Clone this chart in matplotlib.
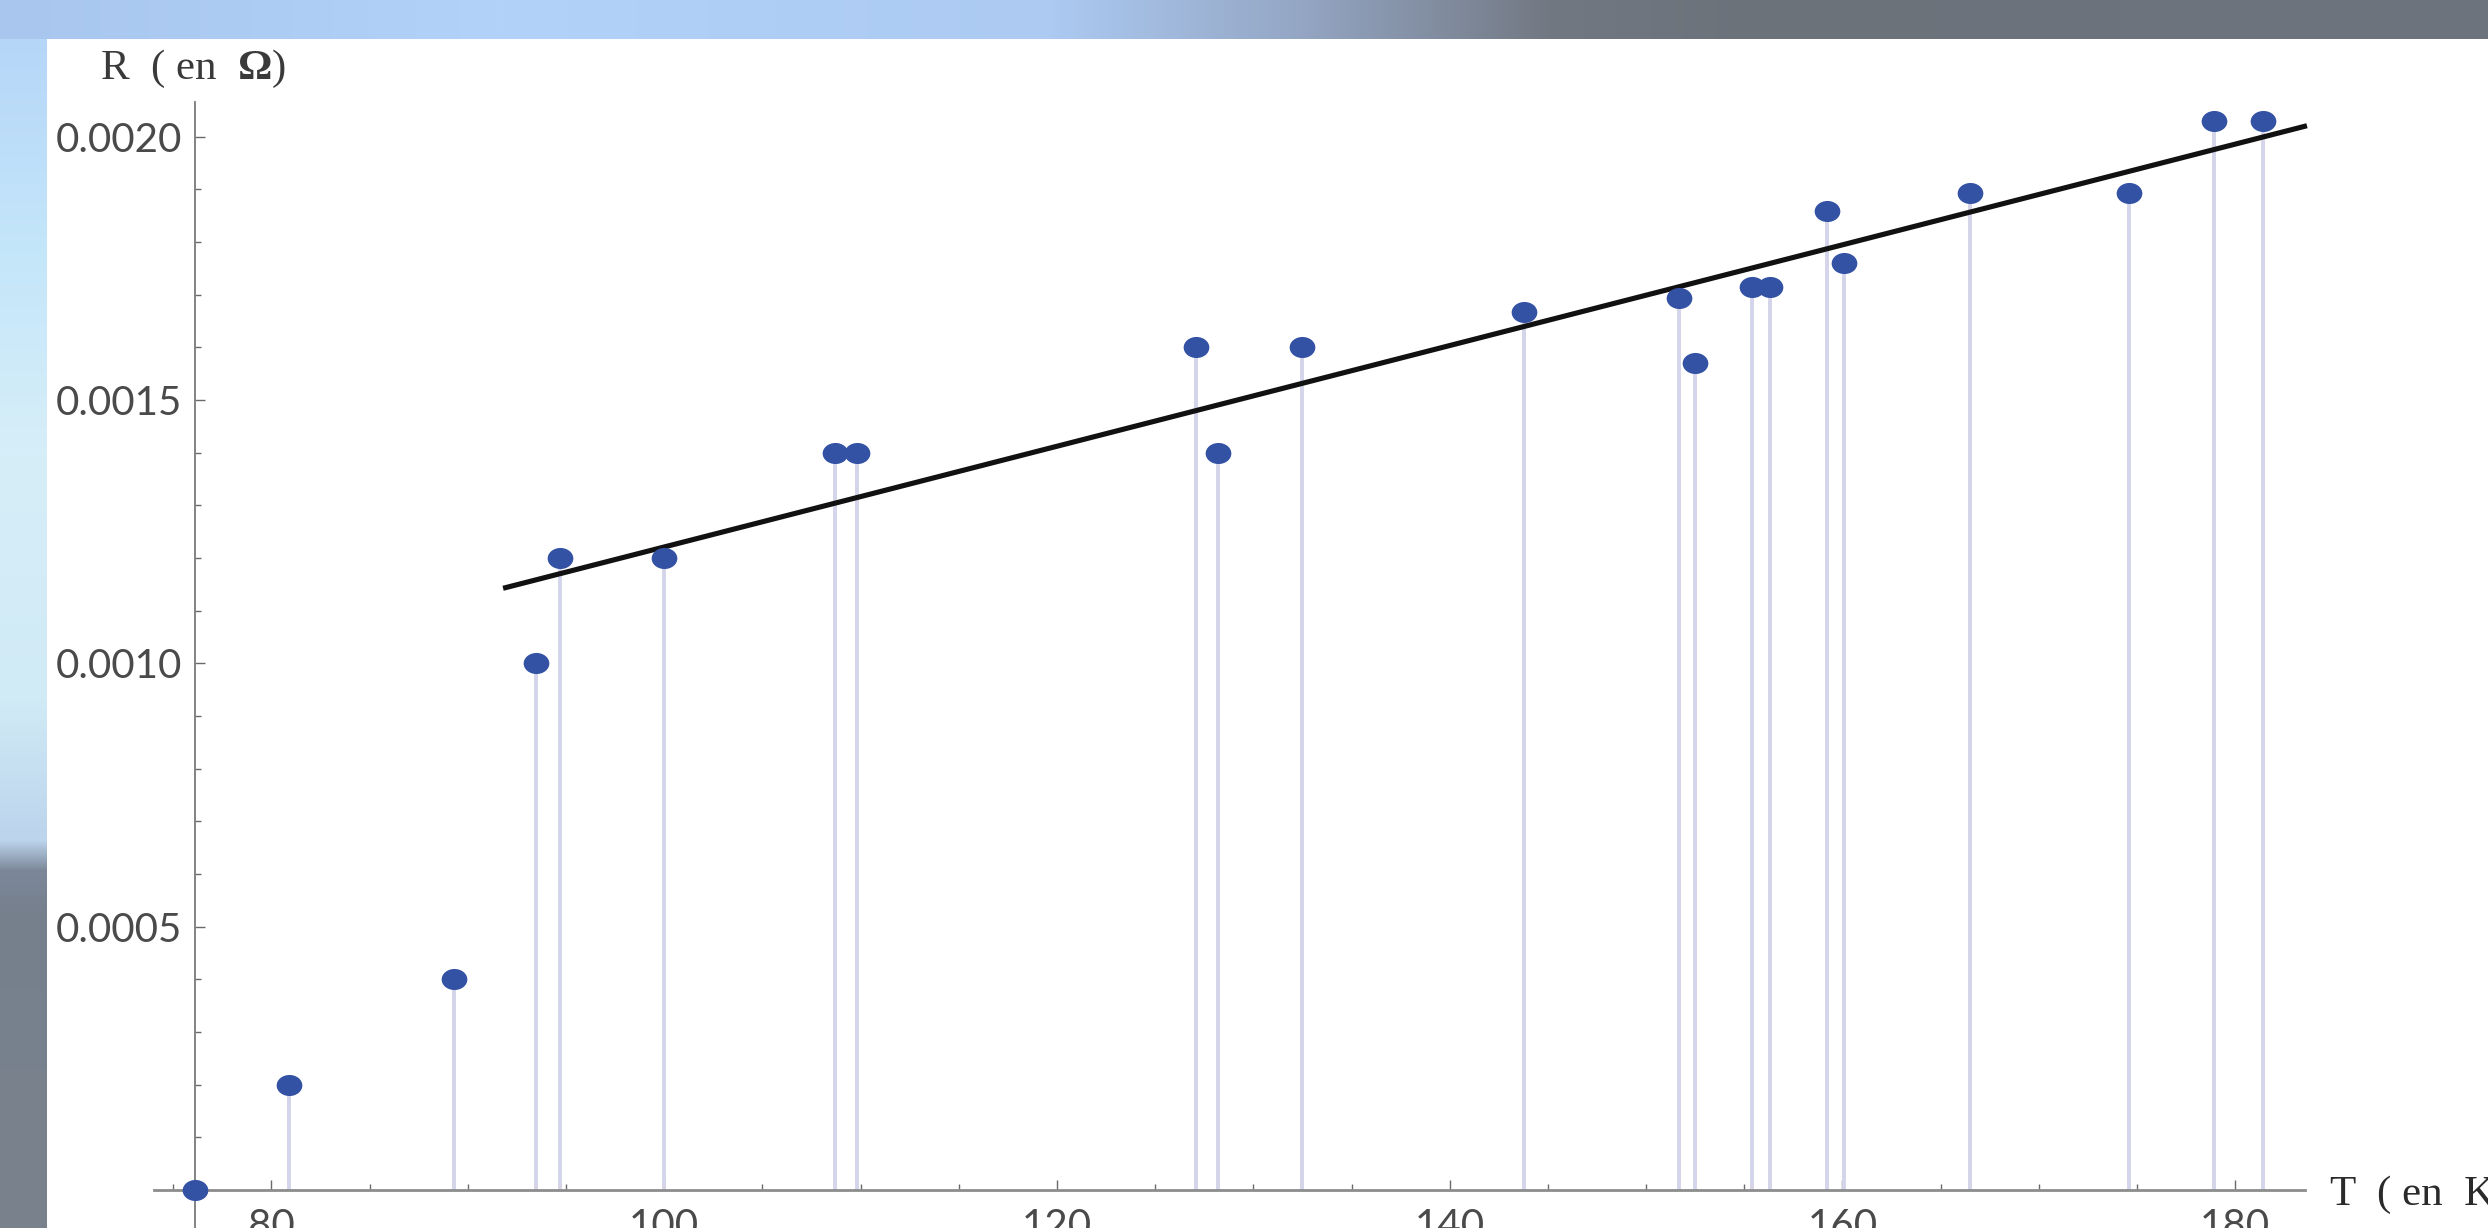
import numpy as np
import matplotlib
matplotlib.use("Agg")
import matplotlib.pyplot as plt
from matplotlib.path import Path
from matplotlib.ticker import FixedLocator, FixedFormatter

# ---------------- data ----------------
T_K = [76.1, 80.9, 89.3, 93.5, 94.7, 100.0, 108.7, 109.8, 127.1, 128.2, 132.5,
       143.8, 151.7, 152.5, 155.4, 156.3, 159.2, 160.1, 166.5, 174.6, 178.9, 181.4]
R_OHM = [0.0, 0.0002, 0.0004, 0.0010, 0.0012, 0.0012, 0.0014, 0.0014, 0.0016, 0.0014, 0.0016,
         0.001667, 0.001693, 0.001571, 0.001715, 0.001715, 0.001859, 0.00176, 0.001894, 0.001894,
         0.002029, 0.002029]

FIT_SLOPE = 9.563e-6        # Ohm / K
FIT_INTERCEPT = 2.647e-4    # Ohm
FIT_T_RANGE = (91.8, 183.65)

X_MAJOR = [80, 100, 120, 140, 160, 180]
X_MINOR = [75, 85, 90, 95, 105, 110, 115, 125, 130, 135, 145, 150, 155, 165, 170, 175]
Y_MAJOR = [0.0005, 0.0010, 0.0015, 0.0020]
Y_MAJOR_LABELS = ["0.0005", "0.0010", "0.0015", "0.0020"]
Y_MINOR = [0.0001, 0.0002, 0.0003, 0.0004, 0.0006, 0.0007, 0.0008, 0.0009,
           0.0011, 0.0012, 0.0013, 0.0014, 0.0016, 0.0017, 0.0018, 0.0019]

AXIS_ORIGIN_T = 76.1
X_LIMITS = (74.02, 183.55)
Y_LIMITS = (-0.0000722, 0.002066)

Y_LABEL = "R  ( en  $\\mathbf{\\Omega}$)"
X_LABEL = "T  ( en  K)"

# ---------------- figure ----------------
W, H, DPI = 2488, 1228, 100
plt.rcParams["mathtext.fontset"] = "custom"
plt.rcParams["mathtext.rm"] = "Liberation Serif"
plt.rcParams["mathtext.bf"] = "Liberation Serif:bold"

fig = plt.figure(figsize=(W / DPI, H / DPI), dpi=DPI)

# background "photo" frame
bg = fig.add_axes([0, 0, 1, 1], zorder=0)
bg.set_axis_off()
xs = np.arange(W)
ys = np.arange(H)
top_anchor_x = [0, 500, 1050, 1300, 1550, 1750, 2488]
top_cols = np.array([(168, 198, 238), (178, 210, 250), (172, 202, 242), (148, 166, 196),
                     (114, 120, 130), (108, 114, 122), (110, 116, 126)], float) / 255
left_anchor_y = [0, 39, 250, 450, 700, 840, 870, 910, 1228]
left_cols = np.array([(168, 198, 238), (182, 214, 248), (196, 230, 250), (214, 238, 248),
                      (208, 234, 246), (188, 212, 236), (124, 136, 154), (118, 128, 142),
                      (122, 130, 140)], float) / 255
img = np.ones((H, W, 3))
top_band = np.stack([np.interp(xs, top_anchor_x, top_cols[:, c]) for c in range(3)], axis=-1)
left_band = np.stack([np.interp(ys, left_anchor_y, left_cols[:, c]) for c in range(3)], axis=-1)
img[:, :47, :] = left_band[:, None, :]
img[:39, :, :] = top_band[None, :, :]
bg.imshow(img, extent=(0, W, H, 0), aspect="auto", interpolation="bilinear")
bg.set_xlim(0, W)
bg.set_ylim(H, 0)

# main plot
ax = fig.add_axes([153.9 / W, 0.0, (2305 - 153.9) / W, 1 - 102 / H], zorder=2)
ax.patch.set_alpha(0)
ax.set_xlim(*X_LIMITS)
ax.set_ylim(*Y_LIMITS)

for s in ("top", "right"):
    ax.spines[s].set_visible(False)
ax.spines["left"].set_position(("data", AXIS_ORIGIN_T))
ax.spines["bottom"].set_position(("data", 0))
ax.spines["left"].set_color("#7a7a7a")
ax.spines["left"].set_linewidth(1.3)
ax.spines["bottom"].set_color("#8c8c8c")
ax.spines["bottom"].set_linewidth(2.0)

ax.xaxis.set_major_locator(FixedLocator(X_MAJOR))
ax.xaxis.set_minor_locator(FixedLocator(X_MINOR))
ax.yaxis.set_major_locator(FixedLocator(Y_MAJOR))
ax.yaxis.set_major_formatter(FixedFormatter(Y_MAJOR_LABELS))
ax.yaxis.set_minor_locator(FixedLocator(Y_MINOR))

ax.tick_params(axis="both", which="both", direction="in", color="#6a6a6a", width=1.0)
ax.tick_params(axis="both", which="major", length=7.5)
ax.tick_params(axis="both", which="minor", length=4.3)
ax.tick_params(axis="x", which="major", pad=13, labelsize=29, labelcolor="#4a4a4a")
ax.tick_params(axis="y", which="major", pad=9, labelsize=29, labelcolor="#4a4a4a")
for lab in ax.get_xticklabels() + ax.get_yticklabels():
    lab.set_fontfamily("Lato")
    lab.set_fontweight("normal")

# stems
ax.vlines(T_K, 0, R_OHM, colors="#d4d4ea", linewidth=2.8, zorder=2)

# fit line
t_fit = np.linspace(FIT_T_RANGE[0], FIT_T_RANGE[1], 50)
ax.plot(t_fit, FIT_INTERCEPT + FIT_SLOPE * t_fit, color="#111111", linewidth=3.7,
        solid_capstyle="butt", zorder=3, clip_on=False)

# points (slightly flattened dots)
circ = Path.unit_circle()
ell = Path(circ.vertices * np.array([1.0, 0.82]), circ.codes)
ax.plot(T_K, R_OHM, linestyle="none", marker=ell, markersize=18.5,
        color="#3452a4", markeredgewidth=0, zorder=4, clip_on=False)

# axis labels
fig.text(100 / W, 1 - 79 / H, Y_LABEL, family="Liberation Serif", fontsize=31,
         color="#3a3a3a", ha="left", va="baseline")
fig.text(2330 / W, 1 - 1205 / H, X_LABEL, family="Liberation Serif", fontsize=31,
         color="#2a2a2a", ha="left", va="baseline")

fig.savefig("out.png", dpi=DPI)
